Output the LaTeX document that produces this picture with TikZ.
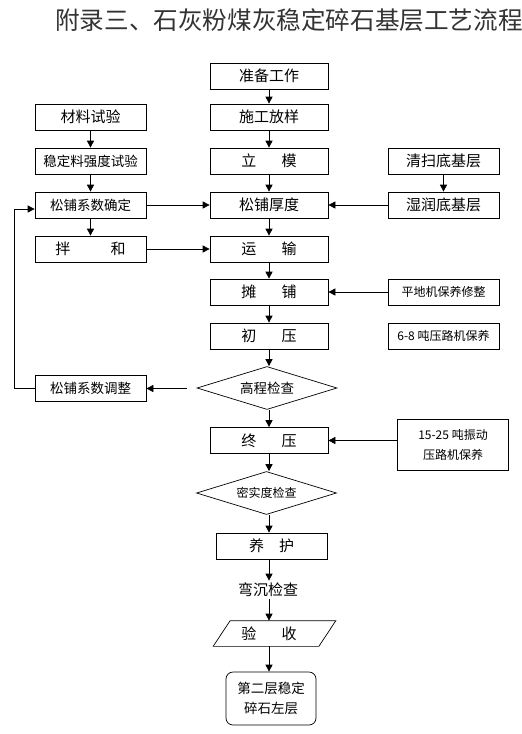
\documentclass[tikz,border=0pt]{standalone}
\usepackage{fontspec}
\setmainfont{Noto Sans CJK SC}
\usetikzlibrary{arrows.meta,shapes.geometric}
\newcommand\bxfont{\fontsize{15pt}{18pt}\selectfont}
\newcommand\mdfont{\fontsize{13.5pt}{20pt}\selectfont}
\newcommand\smfont{\fontsize{12pt}{20pt}\selectfont}
\newcommand\gap[1]{\hspace{#1em}}
\begin{document}
\begin{tikzpicture}[x=1pt,y=-1pt,line width=0.7pt,
    box/.style={draw,minimum width=118pt,minimum height=26pt,inner sep=0pt,font=\bxfont},
    sbox/.style={box,minimum width=111pt},
    dmd/.style={draw,diamond,aspect=3.2,minimum width=140pt,minimum height=43pt,inner sep=0pt},
    arr/.style={-{Triangle[length=7pt,width=7pt]}}]
      \useasboundingbox (0,0) rectangle (522,734);
      \node[anchor=west,font=\fontsize{24.6pt}{28pt}\selectfont,text=black!80,inner sep=0pt] (title) at (55,20) {附录三、石灰粉煤灰稳定碎石基层工艺流程};
      % main column
      \node[box] (zb) at (269,76) {准备工作};
      \node[box] (sg) at (269,117) {施工放样};
      \node[box] (lm) at (269,161) {立\gap{1.7}模};
      \node[box] (hd) at (269,205) {松铺厚度};
      \node[box] (ys) at (269,249) {运\gap{1.7}输};
      \node[box] (tp) at (269,292) {摊\gap{1.7}铺};
      \node[box] (cy) at (269,336) {初\gap{1.7}压};
      \node[dmd] (gc) at (267,388) {\mdfont 高程检查};
      \node[box] (zy) at (269,440.5) {终\gap{1.7}压};
      \node[dmd] (ms) at (266.5,493) {\smfont 密实度检查};
      \node[box,minimum width=111pt] (yh) at (271.5,546) {养\gap{1}护};
      \node[font=\bxfont,inner sep=2pt] (wc) at (268,590) {弯沉检查};
      \node[minimum width=105pt,minimum height=25pt,inner sep=0pt,font=\bxfont] (ysh) at (269,633.5) {验\gap{1.7}收};
      \draw ([xshift=14pt]ysh.north west) -- ([xshift=14pt]ysh.north east)
        -- ([xshift=-3pt]ysh.south east) -- ([xshift=-3pt]ysh.south west) -- cycle;
      \node[draw,rounded corners=7pt,minimum width=90pt,minimum height=53pt,align=center,font=\mdfont] (dc) at (271,698.5) {第二层稳定\\碎石左层};
      % left column
      \node[sbox] (cl) at (90.5,117) {材料试验};
      \node[sbox,font=\mdfont] (qd) at (90.5,161) {稳定料强度试验};
      \node[sbox,font=\mdfont] (xs) at (90.5,205) {松铺系数确定};
      \node[sbox] (bh) at (90.5,249) {拌\gap{2.7}和};
      \node[sbox,font=\mdfont] (tz) at (90.5,388.5) {松铺系数调整};
      % right column
      \node[sbox] (qs) at (443.5,161) {清扫底基层};
      \node[sbox] (sr) at (443.5,205) {湿润底基层};
      \node[sbox,font=\smfont] (pd) at (443.5,292) {平地机保养修整};
      \node[sbox,font=\smfont] (yl) at (443.5,336) {6-8 吨压路机保养};
      \node[sbox,minimum height=51pt,align=center,font=\smfont] (zd) at (453,444.5) {15-25 吨振动\\压路机保养};
      % arrows
      \draw[arr] (zb) -- (sg);
      \draw[arr] (sg) -- (lm);
      \draw[arr] (lm) -- (hd);
      \draw[arr] (hd) -- (ys);
      \draw[arr] (ys.south) -- (tp.north);
      \draw[arr] (tp) -- (cy);
      \draw[arr] (cy.south) -- (cy.south |- gc.north);
      \draw[arr] (gc.south -| zy.north) -- (zy.north);
      \draw[arr] (zy.south) -- (zy.south |- ms.north);
      \draw[arr] (ms.south -| zy.south) -- (yh.north -| zy.south);
      \draw[arr] (yh.south -| zy.south) -- (wc.north -| zy.south);
      \draw[arr] (wc.south -| zy.south) -- (ysh.north -| zy.south);
      \draw[arr] (ysh.south -| zy.south) -- (dc.north -| zy.south);
      \draw[arr] (cl) -- (qd);
      \draw[arr] (qd) -- (xs);
      \draw[arr] (xs) -- (bh);
      \draw[arr] (xs) -- (hd);
      \draw[arr] (bh) -- (ys);
      \draw[arr] (qs) -- (sr);
      \draw[arr] (sr) -- (hd);
      \draw[arr] (pd) -- (tp);
      \draw[arr] (zd.west |- zy) -- (zy);
      \draw[arr] (gc.west |- tz.east) ++(-10,0) -- (tz.east);
      \draw[arr] (tz.west) -- ++(-20,0) |- ([yshift=-4pt]xs.west);
\end{tikzpicture}
\end{document}
